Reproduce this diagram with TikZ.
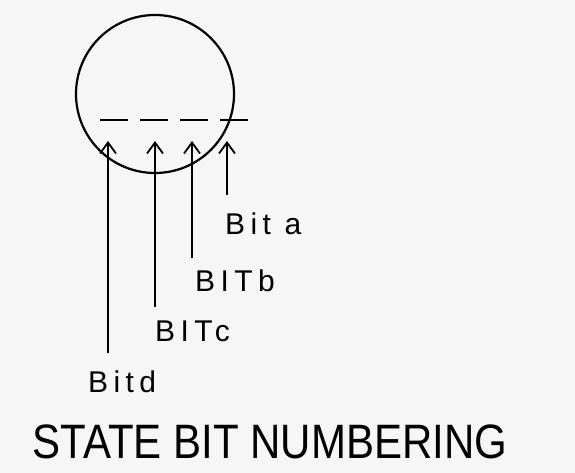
\documentclass[tikz,border=0pt]{standalone}
\usepackage{fontspec}
\setmainfont{Liberation Sans}
\newfontfamily\handfont[LetterSpace=18]{Liberation Sans}
\usepackage{tikz}
\usetikzlibrary{arrows.meta, positioning}

\begin{document}
\begin{tikzpicture}[x=1pt, y=-1pt,
  bitarrow/.style={-{Straight Barb[length=11pt, width=16pt, line width=1.8pt]}, line width=1.5pt},
  bitlabel/.style={anchor=west, inner sep=0pt, font=\handfont\fontsize{30}{30}\selectfont}]
\fill[gray!7] (0,0) rectangle (575,473);
\useasboundingbox (0,0) rectangle (575,473);
\node[circle, draw, line width=2.2pt, minimum size=158pt, inner sep=0pt] (state) at (155,94) {};
\coordinate (cutL) at (100,120);
\coordinate (cutR) at (250,120);
\draw[line width=2pt, dash pattern=on 28pt off 12pt] (cutL) -- (cutR);
\foreach \n/\x/\y/\lx/\ly/\txt in {a/227/195/225/224/Bit a, b/192/258/195/281/BITb,
                                   c/155/307/155/331/BITc, d/108/353/88/382/Bitd}{
  \coordinate (tail\n) at (\x,\y);
  \coordinate (tip\n) at (\x,141);
  \draw[bitarrow] (tail\n) -- (tip\n);
  \node[bitlabel] (lab\n) at (\lx,\ly) {\txt};
}
\node[font=\fontsize{42}{42}\selectfont, yscale=1.15] (title) at (270,442) {STATE BIT NUMBERING};
\end{tikzpicture}
\end{document}
